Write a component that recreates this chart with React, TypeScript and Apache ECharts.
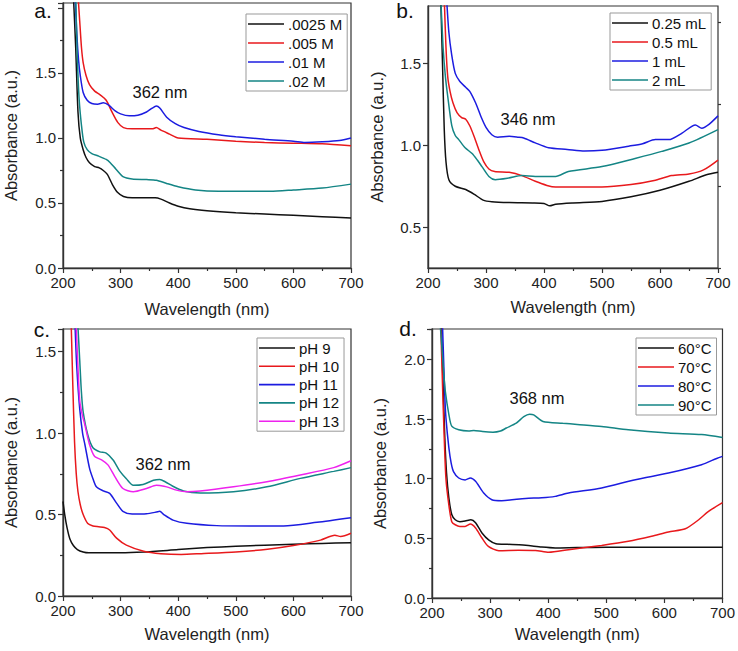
import React, { useEffect, useRef } from "react";
import * as echarts from "echarts";

// ---------- data (wavelength nm, absorbance a.u.) ----------
const xTicks = [200, 300, 400, 500, 600, 700];

// panel a
const aNames = [".0025 M", ".005 M", ".01 M", ".02 M"];
const a0025 = [[218, 2.1], [222, 1.7], [226, 1.2], [230, 1.0], [235, 0.91], [240, 0.85], [246, 0.81], [255, 0.78], [263, 0.77], [270, 0.75], [277, 0.72], [286, 0.64], [295, 0.58], [305, 0.55], [320, 0.54], [340, 0.54], [360, 0.54], [370, 0.53], [385, 0.5], [400, 0.475], [420, 0.455], [450, 0.44], [500, 0.425], [550, 0.415], [600, 0.405], [650, 0.395], [700, 0.385]];
const a005 = [[226, 2.1], [229, 1.9], [232, 1.7], [235, 1.58], [240, 1.48], [246, 1.41], [255, 1.36], [265, 1.33], [275, 1.29], [285, 1.2], [295, 1.12], [305, 1.08], [320, 1.07], [340, 1.07], [355, 1.07], [362, 1.08], [370, 1.06], [385, 1.03], [400, 1.0], [450, 0.99], [500, 0.975], [550, 0.965], [600, 0.96], [650, 0.955], [700, 0.94]];
const a01 = [[221, 2.1], [224, 1.8], [227, 1.6], [230, 1.48], [235, 1.35], [242, 1.29], [250, 1.265], [260, 1.26], [270, 1.27], [280, 1.25], [290, 1.21], [300, 1.185], [315, 1.17], [330, 1.175], [345, 1.2], [355, 1.23], [362, 1.245], [368, 1.23], [380, 1.16], [395, 1.11], [410, 1.08], [436, 1.05], [470, 1.025], [500, 1.01], [550, 0.99], [600, 0.975], [620, 0.965], [650, 0.97], [680, 0.98], [700, 1.0]];
const a02 = [[222, 2.1], [225, 1.6], [228, 1.3], [232, 1.1], [236, 0.97], [242, 0.91], [250, 0.88], [262, 0.86], [275, 0.835], [282, 0.81], [292, 0.76], [305, 0.7], [320, 0.685], [345, 0.68], [362, 0.675], [380, 0.65], [400, 0.625], [430, 0.6], [470, 0.59], [520, 0.59], [560, 0.59], [600, 0.6], [650, 0.615], [700, 0.645]];

// panel b
const bNames = ["0.25 mL", "0.5 mL", "1 mL", "2 mL"];
const b025 = [[222, 1.9], [225, 1.5], [228, 1.1], [231, 0.9], [236, 0.79], [247, 0.75], [265, 0.73], [280, 0.7], [295, 0.665], [310, 0.655], [340, 0.65], [380, 0.648], [400, 0.645], [410, 0.63], [420, 0.64], [450, 0.648], [500, 0.657], [550, 0.685], [600, 0.725], [650, 0.78], [680, 0.82], [700, 0.835]];
const b05 = [[228, 1.9], [231, 1.6], [234, 1.42], [238, 1.33], [243, 1.26], [250, 1.2], [258, 1.17], [265, 1.16], [272, 1.12], [280, 1.05], [288, 0.97], [296, 0.9], [305, 0.855], [315, 0.84], [340, 0.835], [362, 0.815], [385, 0.78], [405, 0.755], [420, 0.745], [460, 0.745], [500, 0.745], [550, 0.76], [590, 0.785], [620, 0.815], [650, 0.825], [675, 0.85], [700, 0.91]];
const b1 = [[232, 1.9], [236, 1.69], [241, 1.55], [247, 1.44], [255, 1.39], [265, 1.355], [272, 1.33], [282, 1.26], [292, 1.17], [300, 1.11], [310, 1.065], [320, 1.05], [340, 1.055], [355, 1.05], [365, 1.045], [385, 1.015], [408, 0.985], [440, 0.975], [470, 0.965], [500, 0.97], [546, 0.995], [570, 1.01], [592, 1.035], [615, 1.035], [638, 1.075], [661, 1.125], [672, 1.105], [685, 1.13], [700, 1.18]];
const b2 = [[222, 1.9], [226, 1.6], [230, 1.42], [234, 1.3], [241, 1.12], [247, 1.06], [253, 1.035], [264, 0.985], [276, 0.95], [285, 0.91], [293, 0.87], [305, 0.81], [316, 0.79], [339, 0.8], [362, 0.815], [385, 0.81], [420, 0.81], [442, 0.84], [500, 0.87], [557, 0.92], [603, 0.963], [650, 1.014], [700, 1.096]];

// panel c
const cNames = ["pH 9", "pH 10", "pH 11", "pH 12", "pH 13"];
const cPH9 = [[200, 0.58], [203, 0.5], [207, 0.42], [212, 0.35], [218, 0.31], [225, 0.285], [235, 0.27], [245, 0.265], [300, 0.265], [340, 0.27], [400, 0.285], [450, 0.297], [500, 0.305], [550, 0.312], [600, 0.318], [650, 0.323], [700, 0.327]];
const cPH10 = [[214, 1.7], [217, 1.3], [220, 0.95], [223, 0.75], [226, 0.64], [230, 0.56], [235, 0.5], [243, 0.445], [252, 0.43], [262, 0.425], [272, 0.42], [281, 0.405], [293, 0.355], [310, 0.312], [340, 0.275], [370, 0.26], [405, 0.255], [440, 0.26], [500, 0.27], [555, 0.287], [600, 0.31], [647, 0.343], [672, 0.373], [682, 0.365], [700, 0.385]];
const cPH11 = [[221, 1.65], [224, 1.4], [229, 1.15], [234, 1.0], [238, 0.93], [246, 0.785], [252, 0.72], [258, 0.67], [270, 0.645], [281, 0.63], [293, 0.57], [304, 0.52], [320, 0.503], [345, 0.505], [362, 0.515], [368, 0.52], [375, 0.5], [391, 0.466], [415, 0.446], [467, 0.432], [525, 0.43], [583, 0.43], [641, 0.452], [700, 0.48]];
const cPH12 = [[226, 1.65], [229, 1.45], [232, 1.25], [235, 1.13], [243, 0.99], [252, 0.91], [264, 0.885], [275, 0.877], [287, 0.835], [298, 0.77], [310, 0.72], [322, 0.68], [339, 0.685], [357, 0.71], [368, 0.715], [378, 0.7], [390, 0.675], [409, 0.645], [438, 0.632], [496, 0.64], [554, 0.67], [612, 0.722], [670, 0.765], [700, 0.788]];
const cPH13 = [[223, 1.65], [226, 1.4], [229, 1.2], [233, 1.12], [238, 1.05], [246, 0.93], [255, 0.856], [267, 0.836], [278, 0.805], [290, 0.733], [304, 0.66], [322, 0.64], [345, 0.66], [362, 0.68], [368, 0.678], [380, 0.67], [397, 0.65], [415, 0.64], [438, 0.645], [496, 0.671], [554, 0.702], [612, 0.743], [670, 0.788], [700, 0.83]];

// panel d
const dNames = ["60°C", "70°C", "80°C", "90°C"];
const d60 = [[216, 2.3], [219, 1.8], [222, 1.35], [225, 1.05], [229, 0.84], [234, 0.7], [240, 0.656], [248, 0.64], [257, 0.645], [267, 0.655], [275, 0.63], [286, 0.545], [298, 0.485], [310, 0.455], [330, 0.45], [350, 0.447], [366, 0.44], [389, 0.427], [412, 0.42], [450, 0.423], [500, 0.425], [550, 0.425], [600, 0.425], [650, 0.425], [700, 0.425]];
const d70 = [[215, 2.3], [218, 1.8], [221, 1.35], [224, 1.0], [229, 0.78], [234, 0.64], [240, 0.614], [248, 0.6], [257, 0.6], [266, 0.62], [275, 0.587], [286, 0.503], [297, 0.433], [315, 0.397], [349, 0.4], [378, 0.398], [401, 0.383], [435, 0.405], [492, 0.441], [538, 0.475], [578, 0.517], [607, 0.553], [636, 0.58], [659, 0.656], [676, 0.726], [700, 0.8]];
const d80 = [[218, 2.3], [220, 2.0], [222, 1.7], [224, 1.51], [229, 1.26], [233, 1.13], [237, 1.06], [246, 1.006], [257, 0.99], [266, 1.006], [275, 0.978], [289, 0.88], [303, 0.824], [320, 0.816], [361, 0.835], [389, 0.84], [412, 0.852], [435, 0.88], [492, 0.922], [550, 0.992], [607, 1.047], [664, 1.117], [690, 1.17], [700, 1.187]];
const d90 = [[214, 2.3], [217, 2.1], [220, 1.9], [223, 1.73], [229, 1.54], [234, 1.44], [246, 1.41], [263, 1.4], [272, 1.405], [287, 1.395], [305, 1.39], [318, 1.4], [328, 1.425], [345, 1.466], [358, 1.52], [368, 1.54], [375, 1.535], [391, 1.48], [425, 1.465], [450, 1.455], [492, 1.438], [538, 1.41], [607, 1.383], [664, 1.37], [700, 1.346]];

const colors = ["#111111", "#e8191c", "#1c1ce0", "#148585", "#ee22ee"];
const FONT = '"Liberation Sans", Arial, sans-serif';

export default function App() {
  const ref = useRef<HTMLDivElement>(null);
  useEffect(() => {
    document.body.style.margin = "0";
    const chart = echarts.init(ref.current!, null, { renderer: "svg" });
    const grids = [
      { left: 63, top: 3, width: 288, height: 265 },
      { left: 428, top: 6, width: 290, height: 262 },
      { left: 63, top: 329, width: 288, height: 267 },
      { left: 432, top: 329, width: 291, height: 269 },
    ].map((g) => ({ ...g, show: true, borderColor: "#333", borderWidth: 1.2, backgroundColor: "transparent" }));

    const axisLine = { show: true, lineStyle: { color: "#333", width: 1.4 } };
    const labelStyle = { color: "#222", fontSize: 15, fontFamily: FONT };
    const nameStyle = { color: "#222", fontSize: 16.5, fontFamily: FONT };
    const xGaps = [32, 30, 29, 27];
    const xAxis = grids.map((_, i) => ({
      type: "value",
      gridIndex: i,
      min: 200,
      max: 700,
      interval: 100,
      name: "Wavelength (nm)",
      nameLocation: "middle",
      nameGap: xGaps[i],
      nameTextStyle: nameStyle,
      axisLine,
      axisTick: { show: true, length: 5, lineStyle: { color: "#333", width: 1.2 } },
      minorTick: { show: true, splitNumber: 2, length: 3, lineStyle: { color: "#333", width: 1.2 } },
      axisLabel: { ...labelStyle, margin: 7, customValues: xTicks },
      splitLine: { show: false },
    }));
    const yMax = [2.038, 1.852, 1.639, 2.255];
    const yGaps = [44, 43, 44, 44];
    const yAxis: any[] = [0, 1, 2, 3].map((i) => ({
      type: "value",
      gridIndex: i,
      min: i === 1 ? 0.25 : 0,
      max: yMax[i],
      interval: i === 1 ? 0.25 : 0.5,
      name: "Absorbance (a.u.)",
      nameLocation: "middle",
      nameGap: yGaps[i],
      nameTextStyle: nameStyle,
      axisLine,
      axisTick:
        i === 1
          ? { show: true, length: 5, customValues: [0.5, 1.0, 1.5], lineStyle: { color: "#333", width: 1.2 } }
          : { show: true, length: 5, lineStyle: { color: "#333", width: 1.2 } },
      minorTick: { show: i !== 1, splitNumber: 2, length: 3, lineStyle: { color: "#333", width: 1.2 } },
      axisLabel: {
        ...labelStyle,
        margin: 7,
        formatter: (v: number) => {
          if (i === 0 && v > 1.9) return "";
          if (Math.abs(v * 2 - Math.round(v * 2)) > 1e-6) return "";
          return v.toFixed(1);
        },
      },
      splitLine: { show: false },
    }));
    // minor ticks for panel b
    yAxis.push({
      type: "value",
      gridIndex: 1,
      min: 0.25,
      max: 1.852,
      interval: 0.25,
      axisLine: { show: false },
      axisLabel: { show: false },
      axisTick: { show: true, length: 3, customValues: [0.25, 0.75, 1.25, 1.75], lineStyle: { color: "#333", width: 1.2 } },
      splitLine: { show: false },
    });

    const panels = [
      { names: aNames, data: [a0025, a005, a01, a02] },
      { names: bNames, data: [b025, b05, b1, b2] },
      { names: cNames, data: [cPH9, cPH10, cPH11, cPH12, cPH13] },
      { names: dNames, data: [d60, d70, d80, d90] },
    ];
    const series: any[] = [];
    panels.forEach((p, pi) => {
      p.data.forEach((d, si) => {
        series.push({
          type: "line",
          name: p.names[si],
          xAxisIndex: pi,
          yAxisIndex: pi,
          data: d,
          showSymbol: false,
          symbol: "none",
          smooth: 0.25,
          lineStyle: { color: colors[si], width: 1.5 },
          itemStyle: { color: colors[si] },
          z: 3 + si,
        });
      });
    });

    const legendBoxes = [
      { left: 246, top: 14, gap: 4 },
      { left: 610, top: 13, gap: 4 },
      { left: 257, top: 338, gap: 3.3 },
      { left: 636, top: 338, gap: 4 },
    ];
    const legend = panels.map((p, pi) => ({
      orient: "vertical",
      left: legendBoxes[pi].left,
      top: legendBoxes[pi].top,
      data: p.names,
      icon: "rect",
      itemWidth: 36,
      itemHeight: 1.6,
      itemGap: legendBoxes[pi].gap,
      padding: [2.5, 5, 2.5, 2],
      borderColor: "#999",
      borderWidth: 1,
      backgroundColor: "#fff",
      selectedMode: false,
      textStyle: { color: "#111", fontSize: 15, fontFamily: FONT, lineHeight: 15, padding: [0, 0, 0, -1] },
    }));

    const txt = (text: string, x: number, y: number, size: number) => ({
      type: "text",
      x,
      y,
      z: 100,
      style: { text, fill: "#111", font: `${size}px ${FONT}`, align: "center", verticalAlign: "middle" },
    });

    chart.setOption({
      animation: false,
      backgroundColor: "#fff",
      grid: grids,
      xAxis,
      yAxis,
      legend,
      series,
      graphic: [
        txt("a.", 43, 10, 21),
        txt("b.", 405, 10, 21),
        txt("c.", 42, 329, 21),
        txt("d.", 408, 328, 21),
        txt("362 nm", 160, 92, 16.5),
        txt("346 nm", 528, 119, 16.5),
        txt("362 nm", 163, 464, 16.5),
        txt("368 nm", 537, 398, 16.5),
      ],
    });
    return () => chart.dispose();
  }, []);
  return <div ref={ref} style={{ position: "fixed", left: 0, top: 0, width: 738, height: 651 }} />;
}
